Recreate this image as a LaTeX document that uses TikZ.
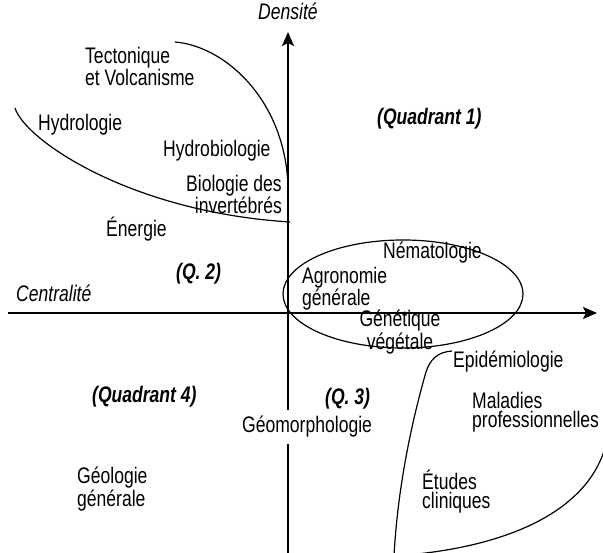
\documentclass[tikz,border=0pt]{standalone}
\usepackage{fontspec}
\setmainfont{Liberation Sans}[FakeStretch=0.78]
\usetikzlibrary{arrows.meta}
\tikzset{
  lbl/.style={inner sep=0pt, font=\fontsize{22.5}{19}\selectfont},
  quad/.style={lbl, font=\fontsize{22.5}{19}\selectfont\bfseries\itshape},
  axislbl/.style={lbl, font=\fontsize{22.5}{19}\selectfont\itshape},
  axis/.style={line width=2pt},
  axisarrow/.style={axis, -{Stealth[length=14pt,width=12pt,inset=3pt]}},
  cluster/.style={line width=1.2pt},
}
\begin{document}
\begin{tikzpicture}[x=1pt,y=-1pt]
\useasboundingbox (0,0) rectangle (603,553);
\clip (0,0) rectangle (603,553);

% axes
\coordinate (xstart) at (8,313);
\coordinate (xend) at (597,313);
\coordinate (ystart) at (288,560);
\coordinate (yend) at (288,32);
\draw[axisarrow] (xstart) -- (xend);
\draw[axisarrow] (ystart) -- (yend);
\node[axislbl, anchor=base] (dens) at (288,20) {Densité};
\node[axislbl, anchor=base west] (cent) at (16,302) {Centralité};

% cluster outlines
\coordinate (t0) at (175,42);
\coordinate (t1) at (288,186);
\draw[cluster] (t0) .. controls (225,46) and (285,100) .. (t1);
\coordinate (h0) at (15,108);
\coordinate (h1) at (290,222);
\draw[cluster] (h0) .. controls (25,140) and (130,212) .. (h1);
\draw[cluster] (403,294) ellipse [x radius=120, y radius=54];
\coordinate (e0) at (452,351);
\coordinate (e1) at (426,372);
\coordinate (e2) at (394,556);
\coordinate (e3) at (605,448);
\draw[cluster] (e0) .. controls (437,352) and (430,360) .. (e1)
  .. controls (415,410) and (398,480) .. (e2)
  .. controls (500,549) and (585,515) .. (e3);

% quadrant labels
\node[quad, anchor=base west] (q1) at (377,125) {(Quadrant 1)};
\node[quad, anchor=base west] (q2) at (176,280) {(Q. 2)};
\node[quad, anchor=base west] (q3) at (325,405) {(Q. 3)};
\node[quad, anchor=base west] (q4) at (92,403) {(Quadrant 4)};

% topics
\node[lbl, anchor=north west, align=left] (tecto) at (85,47) {Tectonique\\et Volcanisme};
\node[lbl, anchor=base west] (hydro) at (38,131) {Hydrologie};
\node[lbl, anchor=base west] (hbio) at (163,157) {Hydrobiologie};
\node[lbl, anchor=north east, align=right] (binv) at (282,175) {Biologie des\\invertébrés};
\node[lbl, anchor=base west] (ener) at (106,237) {Énergie};
\node[lbl, anchor=base west] (nema) at (383,259) {Nématologie};
\node[lbl, anchor=north west, align=left] (agro) at (302,267) {Agronomie\\générale};
\node[lbl, anchor=north, align=center] (gene) at (400,310) {Génétique\\végétale};
\node[lbl, anchor=base west] (epid) at (453,368) {Epidémiologie};
\node[lbl, anchor=north west, align=left] (mala) at (472,392) {Maladies\\professionnelles};
\node[lbl, anchor=north west, align=left] (etud) at (422,470) {Études\\cliniques};
\node[lbl, anchor=base west, fill=white, inner ysep=6pt] (geom) at (242,433) {Géomorphologie};
\node[lbl, anchor=north west, align=left] (geol) at (77,467) {Géologie\\générale};
\end{tikzpicture}
\end{document}
